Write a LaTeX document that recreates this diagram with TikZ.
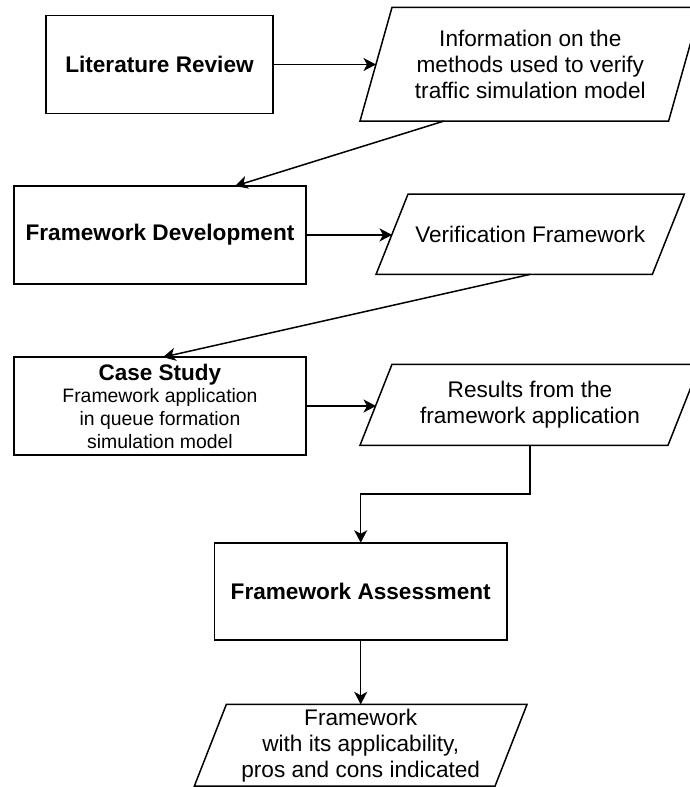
\documentclass[tikz,border=0pt]{standalone}
\usepackage{fontspec}
\setmainfont{Liberation Sans}
\usetikzlibrary{arrows.meta}
\begin{document}
\begin{tikzpicture}[x=1pt,y=-1pt,
  every node/.style={inner sep=0pt, outer sep=0pt},
  proc/.style={draw, line width=1.5pt, fill=white, align=center,
    font=\bfseries\fontsize{22.6}{26}\selectfont},
  io/.style={align=center, font=\fontsize{22.6}{26}\selectfont},
  ioedge/.style={line width=1.5pt, line join=miter},
  flow/.style={line width=1.5pt, -{Stealth[length=12.5pt,width=13pt,inset=3.5pt]}}
]
\useasboundingbox (0,0) rectangle (690,787);
\clip (0,0) rectangle (690,787);

% process boxes
\node[proc, minimum width=227.4pt, minimum height=97.6pt] (lit) at (159.5,64.5) {Literature Review};
\node[proc, minimum width=291.7pt, minimum height=97.7pt] (dev) at (160,234.9) {Framework Development};
\node[proc, minimum width=292pt, minimum height=97.7pt,
  font=\fontsize{19.4}{22.7}\selectfont] (case) at (160,406)
  {{\bfseries\fontsize{22.5}{26}\selectfont Case Study}\\Framework application\\in queue formation\\simulation model};
\node[proc, minimum width=292.7pt, minimum height=97.3pt] (ass) at (360.7,591.4) {Framework Assessment};

% data shapes: text node sized to the outer extent of each parallelogram
\node[io, minimum width=340.6pt, minimum height=113.7pt] (info) at (530.3,64.2)
  {Information on the\\methods used to verify\\traffic simulation model};
\node[io, minimum width=308.3pt, minimum height=80.3pt] (vf) at (530.2,234.2)
  {Verification Framework};
\node[io, minimum width=340pt, minimum height=81pt] (res) at (530,404.8)
  {Results from the\\framework application};
\node[io, minimum width=332.7pt, minimum height=81.7pt] (fin) at (360.7,745.2)
  {Framework\\with its applicability,\\pros and cons indicated};

% parallelogram outlines, slanted by 32pt
\foreach \n in {info,vf,res,fin}{
  \draw[ioedge] (\n.south west) -- ([xshift=32pt]\n.north west) -- (\n.north east)
    -- ([xshift=-32pt]\n.south east) -- cycle;
  \coordinate (\n-l) at ([xshift=16pt]\n.west);
}

% connectors
\draw[flow] (lit.east) -- (lit.east -| info-l);
\draw[flow] ([xshift=84pt]info.south west) -- ([xshift=75pt]dev.north);
\draw[flow] (dev.east) -- (dev.east -| vf-l);
\draw[flow] (vf.south) -- ([xshift=3pt]case.north);
\draw[flow] (case.east) -- (case.east -| res-l);
\draw[flow] (res.south) -- ++(0,48.7) -| (ass.north);
\draw[flow] (ass.south) -- (fin.north);
\end{tikzpicture}
\end{document}
